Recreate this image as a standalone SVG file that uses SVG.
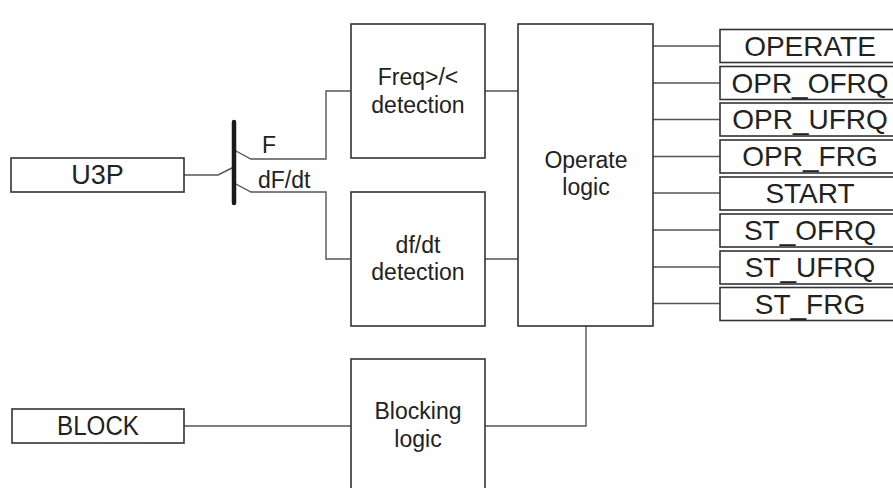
<svg xmlns="http://www.w3.org/2000/svg" width="893" height="488" viewBox="0 0 893 488">
<style>
.box{fill:#fff;stroke:#333;stroke-width:1.6}
.wire{fill:none;stroke:#555;stroke-width:1.4}
.lbl{font-family:"Liberation Sans",Arial,sans-serif;font-size:23px;fill:#222;text-anchor:middle}
.port{font-family:"Liberation Sans",Arial,sans-serif;font-size:27px;fill:#222;text-anchor:middle}
.out{font-size:28px}
.sig{font-family:"Liberation Sans",Arial,sans-serif;font-size:23px;fill:#222}
</style>
<rect width="893" height="488" fill="#fff"/>
<g id="connectors">
<polyline class="wire" points="184,175 218,175 234,167"/>
<polyline class="wire" points="234,150 251,159 326,159 326,91 351,91"/>
<polyline class="wire" points="234,183 251,192 326,192 326,259 351,259"/>
<line class="wire" x1="485" y1="91" x2="518" y2="91"/>
<line class="wire" x1="485" y1="259" x2="518" y2="259"/>
<line class="wire" x1="184" y1="426" x2="351" y2="426"/>
<polyline class="wire" points="485,426 586,426 586,326"/>
<line class="wire" x1="653" y1="46" x2="720" y2="46"/>
<line class="wire" x1="653" y1="83" x2="720" y2="83"/>
<line class="wire" x1="653" y1="119.5" x2="720" y2="119.5"/>
<line class="wire" x1="653" y1="156.5" x2="720" y2="156.5"/>
<line class="wire" x1="653" y1="193" x2="720" y2="193"/>
<line class="wire" x1="653" y1="230" x2="720" y2="230"/>
<line class="wire" x1="653" y1="267" x2="720" y2="267"/>
<line class="wire" x1="653" y1="303.5" x2="720" y2="303.5"/>
</g>
<g id="bus">
<line x1="234" y1="122" x2="234" y2="203" stroke="#1a1a1a" stroke-width="4.5" stroke-linecap="round"/>
<text class="sig" x="262" y="153">F</text>
<text class="sig" x="258" y="188">dF/dt</text>
</g>
<g id="U3P">
<rect class="box" x="11" y="158" width="173" height="34"/>
<text class="port" x="97.5" y="184">U3P</text>
</g>
<g id="BLOCK">
<rect class="box" x="12" y="409" width="172" height="34"/>
<text class="port" x="98" y="434.5" textLength="82" lengthAdjust="spacingAndGlyphs">BLOCK</text>
</g>
<g id="freq">
<rect class="box" x="351" y="24" width="134" height="134"/>
<text class="lbl" x="418" y="85">Freq&gt;/&lt;</text>
<text class="lbl" x="418" y="112.5">detection</text>
</g>
<g id="dfdt">
<rect class="box" x="351" y="192" width="134" height="134"/>
<text class="lbl" x="418" y="252.5">df/dt</text>
<text class="lbl" x="418" y="280">detection</text>
</g>
<g id="blocking">
<rect class="box" x="351" y="359" width="134" height="140"/>
<text class="lbl" x="418" y="419">Blocking</text>
<text class="lbl" x="418" y="446.5">logic</text>
</g>
<g id="operate">
<rect class="box" x="518" y="24" width="135" height="302"/>
<text class="lbl" x="586" y="168">Operate</text>
<text class="lbl" x="586" y="194.5">logic</text>
</g>
<g id="out-OPERATE"><rect class="box" x="720" y="29.5" width="180" height="33"/><text class="port out" x="810" y="55.5">OPERATE</text></g>
<g id="out-OPR_OFRQ"><rect class="box" x="720" y="66.5" width="180" height="33"/><text class="port out" x="810" y="92.5">OPR_OFRQ</text></g>
<g id="out-OPR_UFRQ"><rect class="box" x="720" y="103" width="180" height="33"/><text class="port out" x="810" y="129">OPR_UFRQ</text></g>
<g id="out-OPR_FRG"><rect class="box" x="720" y="140" width="180" height="33"/><text class="port out" x="810" y="166">OPR_FRG</text></g>
<g id="out-START"><rect class="box" x="720" y="177" width="180" height="33"/><text class="port out" x="810" y="203">START</text></g>
<g id="out-ST_OFRQ"><rect class="box" x="720" y="214" width="180" height="33"/><text class="port out" x="810" y="240">ST_OFRQ</text></g>
<g id="out-ST_UFRQ"><rect class="box" x="720" y="251" width="180" height="33"/><text class="port out" x="810" y="277">ST_UFRQ</text></g>
<g id="out-ST_FRG"><rect class="box" x="720" y="287.5" width="180" height="33"/><text class="port out" x="810" y="313.5">ST_FRG</text></g>
</svg>
